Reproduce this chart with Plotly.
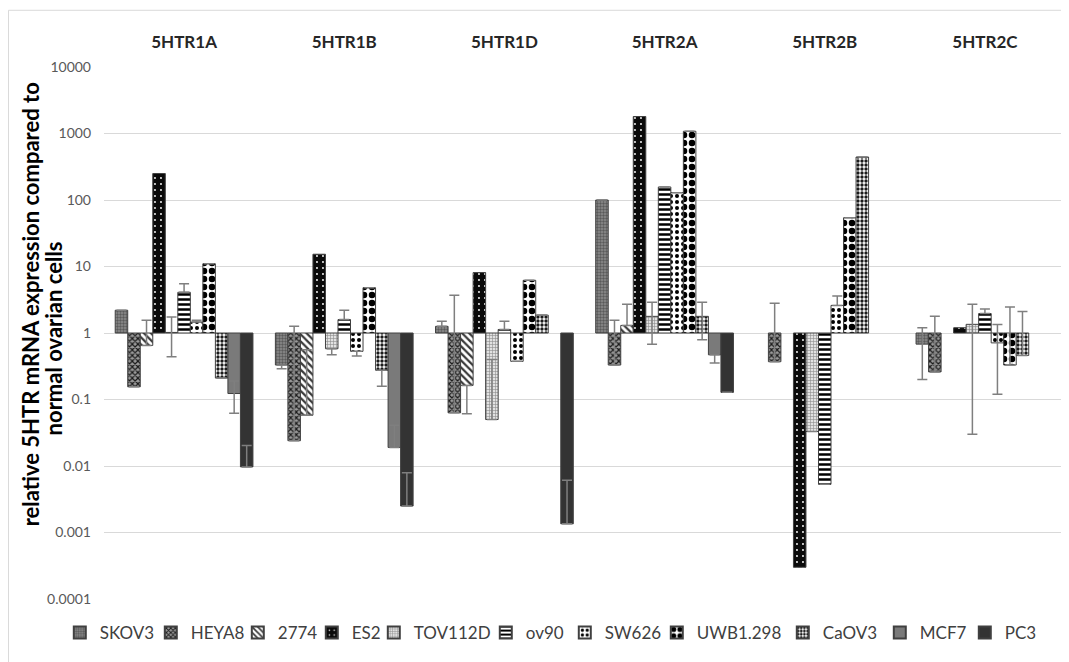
import plotly.graph_objects as go

receptors = ["5HTR1A", "5HTR1B", "5HTR1D", "5HTR2A", "5HTR2B", "5HTR2C"]
series = ["SKOV3", "HEYA8", "2774", "ES2", "TOV112D", "ov90", "SW626",
          "UWB1.298", "CaOV3", "MCF7", "PC3"]

# relative expression (None = no bar)
vals = {
    "SKOV3":    [2.2, 0.33, 1.26, 100, None, 0.68],
    "HEYA8":    [0.155, 0.024, 0.063, 0.33, 0.37, 0.26],
    "2774":     [0.65, 0.058, 0.163, 1.3, None, None],
    "ES2":      [250, 15.3, 8.1, 1800, 0.0003, 1.2],
    "TOV112D":  [1.02, 0.58, 0.05, 1.78, 0.033, 1.35],
    "ov90":     [4.1, 1.59, 1.13, 157, 0.0053, 1.96],
    "SW626":    [1.46, 0.53, 0.375, 129, 2.6, 0.71],
    "UWB1.298": [11, 4.8, 6.2, 1080, 54, 0.33],
    "CaOV3":    [0.21, 0.275, 1.86, 1.78, 443, 0.46],
    "MCF7":     [0.123, 0.019, None, 0.47, None, None],
    "PC3":      [0.0097, 0.0025, 0.00135, 0.128, None, None],
}
# upper / lower ends of the error bars (None = not shown)
err_hi = {
    "SKOV3":    [None, None, 1.5, None, None, 1.2],
    "HEYA8":    [None, 1.26, 3.7, 1.55, 2.8, 1.78],
    "2774":     [1.55, 0.56, None, 2.7, None, None],
    "ES2":      [None] * 6,
    "TOV112D":  [1.74, None, 0.4, 2.9, None, 2.7],
    "ov90":     [5.5, 2.2, 1.5, None, None, 2.3],
    "SW626":    [1.55, None, None, None, 3.6, 1.34],
    "UWB1.298": [None, None, None, None, None, 2.46],
    "CaOV3":    [None, None, None, 2.9, None, 2.1],
    "MCF7":     [0.19, 0.041, None, None, None, None],
    "PC3":      [0.0204, 0.0079, 0.0061, None, None, None],
}
err_lo = {
    "SKOV3":    [None, 0.29, None, None, None, 0.2],
    "HEYA8":    [None] * 6,
    "2774":     [None, None, 0.061, None, None, None],
    "ES2":      [None] * 6,
    "TOV112D":  [0.44, 0.47, None, 0.68, None, 0.03],
    "ov90":     [None] * 6,
    "SW626":    [None, 0.45, None, None, None, 0.12],
    "UWB1.298": [None] * 6,
    "CaOV3":    [None, 0.158, None, 0.79, None, None],
    "MCF7":     [0.062, None, None, 0.355, None, None],
    "PC3":      [None] * 6,
}

styles = {
    "SKOV3":    dict(bg="#8e8e8e", fg="#5a5a5a", shape=".", size=3, sol=0.5),
    "HEYA8":    dict(bg="#9a9a9a", fg="#1a1a1a", shape="x", size=4, sol=0.5),
    "2774":     dict(bg="#ffffff", fg="#3a3a3a", shape="\\", size=5, sol=0.45),
    "ES2":      dict(bg="#0a0a0a", fg="#ffffff", shape=".", size=6, sol=0.08),
    "TOV112D":  dict(bg="#e2e2e2", fg="#8a8a8a", shape="+", size=3, sol=0.35),
    "ov90":     dict(bg="#ffffff", fg="#000000", shape="-", size=5, sol=0.5),
    "SW626":    dict(bg="#ffffff", fg="#000000", shape=".", size=6, sol=0.35),
    "UWB1.298": dict(bg="#ffffff", fg="#000000", shape=".", size=8, sol=0.52),
    "CaOV3":    dict(bg="#ffffff", fg="#1a1a1a", shape=".", size=4, sol=0.55),
    "MCF7":     dict(color="#7a7a7a"),
    "PC3":      dict(color="#333333"),
}
# legend entry widths (px) to mimic the compact legend spacing
legend_w = {"SKOV3": 46, "HEYA8": 42, "2774": 29, "ES2": 17, "TOV112D": 67,
            "ov90": 34, "SW626": 47, "UWB1.298": 81, "CaOV3": 52, "MCF7": 40,
            "PC3": 40}

BASE = 1.0
fig = go.Figure()
for s in series:
    v = vals[s]
    y = [None if a is None else a - BASE for a in v]
    plus = [0 if (h is None or a is None) else h - a for a, h in zip(v, err_hi[s])]
    minus = [0 if (l is None or a is None) else a - l for a, l in zip(v, err_lo[s])]
    has_err = any(p > 0 for p in plus) or any(m > 0 for m in minus)
    st = styles[s]
    if "color" in st:
        marker = dict(color=st["color"], line=dict(color="#404040", width=1))
    else:
        marker = dict(color=st["bg"], line=dict(color="#404040", width=1),
                      pattern=dict(shape=st["shape"], bgcolor=st["bg"],
                                   fgcolor=st["fg"], size=st["size"],
                                   solidity=st["sol"], fillmode="replace"))
    fig.add_trace(go.Bar(
        name=s, x=receptors, y=y, base=BASE, marker=marker,
        legendwidth=legend_w[s],
        error_y=dict(type="data", symmetric=False, array=plus, arrayminus=minus,
                     color="#7f7f7f", thickness=1.5, width=5, visible=has_err),
    ))

tickvals = [0.0001, 0.001, 0.01, 0.1, 1, 10, 100, 1000, 10000]
ticktext = ["0.0001", "0.001", "0.01", "0.1", "1", "10", "100", "1000", "10000"]

fig.update_layout(
    width=1061, height=654,
    margin=dict(l=96, r=4, t=59, b=63),
    paper_bgcolor="white", plot_bgcolor="white",
    barmode="group", bargap=0.14, bargroupgap=0,
    font=dict(family="Lato, Open Sans, sans-serif", color="#404040"),
    showlegend=True,
    legend=dict(orientation="h", x=-0.046, xanchor="left", y=-0.064, yanchor="middle",
                font=dict(size=17, color="#404040"), traceorder="normal",
                itemsizing="constant"),
    xaxis=dict(side="top", showgrid=False, showline=False, ticks="",
               tickfont=dict(size=17, color="#262626", weight="bold"),
               ticklabelstandoff=15),
    yaxis=dict(type="log", range=[-4, 4], tickvals=tickvals, ticktext=ticktext,
               showgrid=True, gridcolor="#d9d9d9", gridwidth=1, zeroline=False,
               showline=False, ticks="", tickfont=dict(size=14, color="#595959"),
               ticklabelstandoff=12),
    annotations=[
        dict(text="relative 5HTR mRNA expression compared to",
             xref="paper", yref="paper", x=-0.077, y=0.554, xanchor="center",
             yanchor="middle", textangle=-90, showarrow=False,
             font=dict(size=22, color="#000000", weight="bold")),
        dict(text="normal ovarian cells",
             xref="paper", yref="paper", x=-0.053, y=0.49, xanchor="center",
             yanchor="middle", textangle=-90, showarrow=False,
             font=dict(size=22, color="#000000", weight="bold")),
    ],
    shapes=[
        dict(type="line", xref="paper", yref="paper", x0=-0.0994, x1=-0.0994,
             y0=-0.2, y1=1.1066, line=dict(color="#d9d9d9", width=1), layer="below"),
        dict(type="line", xref="paper", yref="paper", x0=-0.0994, x1=1.1,
             y0=1.1066, y1=1.1066, line=dict(color="#d9d9d9", width=1), layer="below"),
    ],
)

fig.write_html("out.html")
